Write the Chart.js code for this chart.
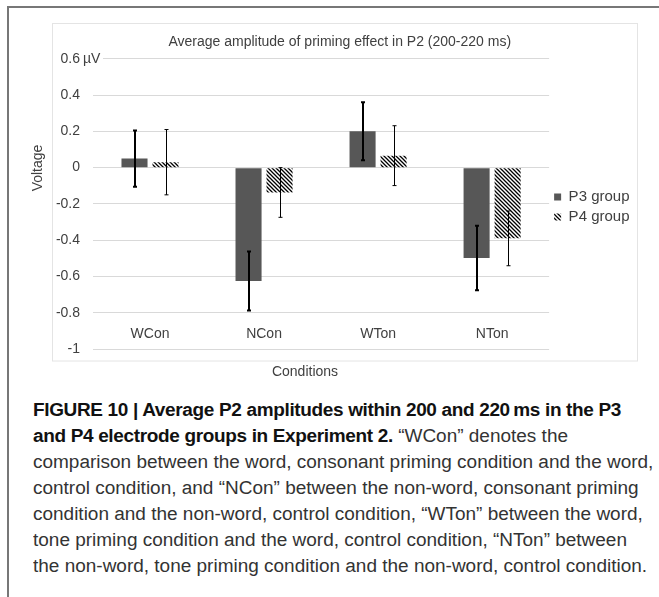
<!DOCTYPE html>
<html>
<head>
<meta charset="utf-8">
<script src="https://cdn.jsdelivr.net/npm/chart.js@4.4.1/dist/chart.umd.min.js"></script>
<style>
  body { margin: 0; background: #fff; width: 659px; height: 597px; overflow: hidden; position: relative; }
  #frame { position: absolute; left: 7px; top: 6px; width: 700px; height: 700px; border-left: 2px solid #777; border-top: 2px solid #777; }
  #chart { position: absolute; left: 0; top: 0; }
  #caption { position: absolute; left: 33px; top: 397px; font-family: "Liberation Sans", Arial, sans-serif; font-size: 18px; line-height: 26px; color: #333; white-space: nowrap; transform-origin: 0 0; }
  #caption b { color: #111; letter-spacing: -0.32px; }
</style>
</head>
<body>
<div id="frame"></div>
<canvas id="chart" width="659" height="390"></canvas>
<div id="caption">
  <div><b>FIGURE 10 | Average P2 amplitudes within 200 and 220&#8201;ms in the P3</b></div>
  <div><b>and P4 electrode groups in Experiment 2.</b> “WCon” denotes the</div>
  <div id="widest">comparison between the word, consonant priming condition and the word,</div>
  <div>control condition, and “NCon” between the non-word, consonant priming</div>
  <div>condition and the non-word, control condition, “WTon” between the word,</div>
  <div>tone priming condition and the word, control condition, “NTon” between</div>
  <div>the non-word, tone priming condition and the non-word, control condition.</div>
</div>
<script>
const conditions = ['WCon', 'NCon', 'WTon', 'NTon'];
const p3Values = [0.05, -0.625, 0.2, -0.498];
const p3Errors = [0.155, 0.163, 0.16, 0.178];
const p4Values = [0.03, -0.137, 0.066, -0.39];
const p4Errors = [0.18, 0.137, 0.165, 0.151];
const yMin = -1, yMax = 0.6, yStep = 0.2;

const FONT = '"Liberation Sans", Arial, sans-serif';
const TEXT = '#404040';

function hatch() {
  const c = document.createElement('canvas');
  c.width = 4; c.height = 4;
  const g = c.getContext('2d');
  g.fillStyle = '#fff';
  g.fillRect(0, 0, 4, 4);
  g.strokeStyle = '#000';
  g.lineWidth = 1.3;
  g.beginPath();
  g.moveTo(0, 0); g.lineTo(4, 4);
  g.moveTo(-1, 3); g.lineTo(1, 5);
  g.moveTo(3, -1); g.lineTo(5, 1);
  g.stroke();
  return g.createPattern(c, 'repeat');
}

const errors = [p3Errors, p4Errors];
const errWidths = [2, 1];

// error bars, inner box and the loose labels
const extras = {
  id: 'extras',
  beforeDraw(chart) {
    const ctx = chart.ctx;
    ctx.save();
    ctx.strokeStyle = '#e4e4e4';
    ctx.lineWidth = 1;
    ctx.strokeRect(52.5, 23.5, 585, 337.5);
    ctx.restore();
  },
  afterDatasetsDraw(chart) {
    const ctx = chart.ctx;
    const y = chart.scales.y;
    ctx.save();
    ctx.strokeStyle = '#000';
    chart.data.datasets.forEach((ds, i) => {
      const meta = chart.getDatasetMeta(i);
      ctx.lineWidth = errWidths[i];
      meta.data.forEach((bar, j) => {
        const v = ds.data[j], e = errors[i][j];
        const x = Math.round(bar.x) + (errWidths[i] % 2 ? 0.5 : 0);
        const top = y.getPixelForValue(v + e);
        const bot = y.getPixelForValue(v - e);
        ctx.beginPath();
        ctx.moveTo(x, top); ctx.lineTo(x, bot);
        ctx.moveTo(x - 2, top); ctx.lineTo(x + 2, top);
        ctx.moveTo(x - 2, bot); ctx.lineTo(x + 2, bot);
        ctx.stroke();
      });
    });
    ctx.restore();
  },
  afterDraw(chart) {
    const ctx = chart.ctx;
    const x = chart.scales.x;
    const y = chart.scales.y;
    ctx.save();
    // unit after the top tick
    const yTop = y.getPixelForValue(yMax);
    ctx.fillStyle = '#fff';
    ctx.fillRect(82, yTop - 6, 21, 12);
    ctx.fillStyle = TEXT;
    ctx.font = '14px ' + FONT;
    ctx.textAlign = 'left';
    ctx.textBaseline = 'middle';
    ctx.fillText('µV', 83, yTop);
    // category labels sit inside the plot, just above the -1 line
    ctx.textAlign = 'center';
    conditions.forEach((c, i) => {
      ctx.fillText(c, x.getPixelForValue(i), y.getPixelForValue(yMin) - 15);
    });
    // axis titles
    ctx.fillText('Conditions', 305, 372);
    ctx.translate(38, 168);
    ctx.rotate(-Math.PI / 2);
    ctx.fillText('Voltage', 0, 0);
    ctx.restore();
  }
};

new Chart(document.getElementById('chart'), {
  type: 'bar',
  data: {
    labels: conditions,
    datasets: [
      { label: 'P3 group', data: p3Values, backgroundColor: '#575757', borderWidth: 0 },
      { label: 'P4 group', data: p4Values, backgroundColor: hatch(), borderWidth: 0 }
    ]
  },
  options: {
    responsive: false,
    animation: false,
    devicePixelRatio: 1,
    categoryPercentage: 0.544,
    barPercentage: 0.84,
    layout: { padding: { left: 40, right: 19.5, top: 24, bottom: 0 } },
    plugins: {
      title: {
        display: true,
        text: 'Average amplitude of priming effect in P2 (200-220 ms)',
        color: TEXT,
        font: { family: FONT, size: 14, weight: 'normal' },
        padding: { top: 10, bottom: 8 }
      },
      legend: {
        position: 'right',
        labels: { boxWidth: 7, boxHeight: 7, padding: 5, color: TEXT, font: { family: FONT, size: 15 } }
      },
      tooltip: { enabled: false }
    },
    scales: {
      x: {
        grid: { display: false },
        border: { display: false },
        ticks: { display: false },
        afterFit(s) { s.height = 41; }
      },
      y: {
        min: yMin,
        max: yMax,
        grid: { color: '#d9d9d9', drawTicks: false },
        border: { display: false },
        ticks: {
          stepSize: yStep,
          padding: 13,
          color: TEXT,
          font: { family: FONT, size: 14 },
          callback: v => String(Number(v.toFixed(1)))
        },
        afterFit(s) { s.width = 53; }
      }
    }
  },
  plugins: [extras]
});

// squeeze the caption to the width of the printed column
const cap = document.getElementById('caption');
const w = document.getElementById('widest').scrollWidth;
cap.style.transform = 'scaleX(' + (620 / w) + ')';
</script>
</body>
</html>
